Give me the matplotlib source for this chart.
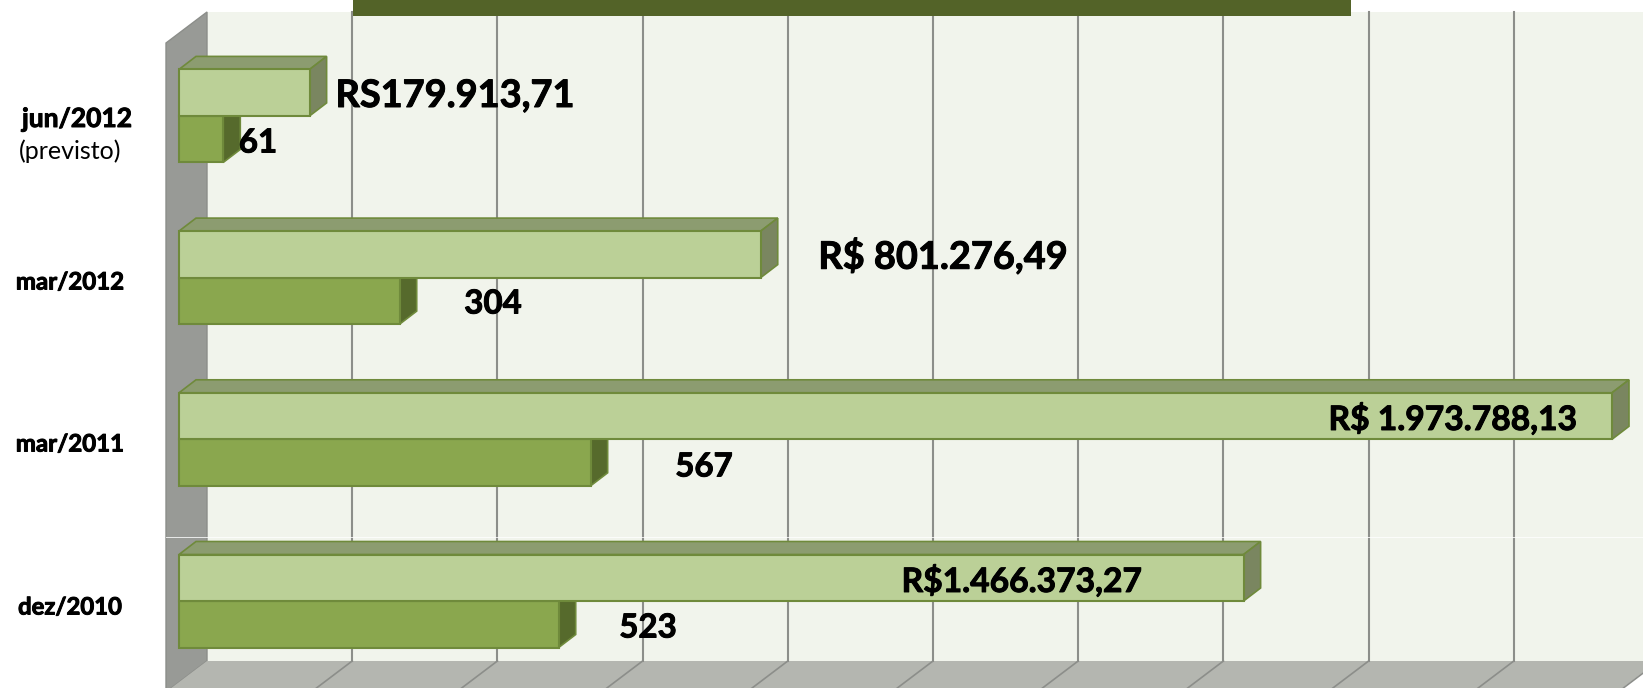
import matplotlib
matplotlib.use("Agg")
import matplotlib.pyplot as plt
import matplotlib.patheffects as pe
from matplotlib.patches import Polygon, Rectangle

categories = ["dez/2010", "mar/2011", "mar/2012", "jun/2012"]
reais = [1466373.27, 1973788.13, 801276.49, 179913.71]
reais_labels = ["R$1.466.373,27", "R$ 1.973.788,13", "R$ 801.276,49", "RS179.913,71"]
contratos = [523, 567, 304, 61]
grid_ticks = [0, 200000, 400000, 600000, 800000, 1000000, 1200000, 1400000, 1600000, 1800000, 2000000, 2200000]

W, H = 1643, 688
PX_PER_REAL = 1433 / 1973788.13
X0 = 179          # pixel of value 0 on the front of the bars
Y0 = 601          # pixel of the line between the two bars of the first row
ROW = 161.7
BAR_H = 46.5 / ROW
COUNT_SCALE = 1000  # the counts share the money axis, 1 count = R$ 1000 of length

DX = 17 / PX_PER_REAL
DY = 13 / ROW

def xp(px):
    return (px - X0) / PX_PER_REAL

def yp(px):
    return (Y0 - px) / ROW

fig = plt.figure(figsize=(W / 100, H / 100), dpi=100, facecolor="white")
ax = fig.add_axes([0, 0, 1, 1])
ax.set_xlim(xp(0), xp(W))
ax.set_ylim(yp(H), yp(0))
ax.axis("off")

#--- walls and floor
back_l, back_r = xp(207), xp(1658)
top, floor_b, floor_f = yp(12), yp(661), yp(692)
ax.add_patch(Rectangle((back_l, floor_b), back_r - back_l, top - floor_b, fc="#F1F4EC", ec="none", zorder=1))
ax.add_patch(Polygon([(xp(166), yp(43)), (back_l, top), (back_l, floor_b), (xp(166), floor_f)], fc="#989A96", ec="#8C8E8A", lw=1, zorder=1))
ax.add_patch(Polygon([(back_l, floor_b), (back_r, floor_b), (xp(1617), floor_f), (xp(166), floor_f)], fc="#B4B6B0", ec="none", zorder=1))

for t in grid_ticks[1:]:
    bx = t + xp(207)
    fx = t + xp(166)
    ax.plot([bx, bx], [floor_b, top], color="#8C8E8A", lw=1.5, zorder=2)
    ax.plot([bx, fx], [floor_b, floor_f], color="#8C8E8A", lw=1.2, zorder=2)

ax.plot([xp(166), xp(W)], [yp(537), yp(537)], color="white", lw=0.7, alpha=0.8, zorder=2)

#--- title band, cut at the top of the picture
ax.add_patch(Rectangle((xp(353), yp(15.5)), xp(1351) - xp(353), yp(0) - yp(15.5), fc="#536328", ec="none", zorder=3))

#--- bars
edge = "#6F8A3B"
for i in range(len(categories)):
    end_c = contratos[i] * COUNT_SCALE
    ax.add_patch(Polygon([(end_c, i), (end_c + DX, i + DY), (end_c + DX, i - BAR_H + DY), (end_c, i - BAR_H)],
                         fc="#566A2C", ec=edge, lw=1.2, zorder=4))
    ax.barh(i - BAR_H / 2, end_c, height=BAR_H, color="#8AA74E", edgecolor=edge, linewidth=1.5, zorder=5)

    end_r = reais[i]
    ax.add_patch(Polygon([(0, i + BAR_H), (DX, i + BAR_H + DY), (end_r + DX, i + BAR_H + DY), (end_r, i + BAR_H)],
                         fc="#8C9C70", ec=edge, lw=1.2, zorder=6))
    ax.add_patch(Polygon([(end_r, i), (end_r + DX, i + DY), (end_r + DX, i + BAR_H + DY), (end_r, i + BAR_H)],
                         fc="#7A8660", ec=edge, lw=1.2, zorder=6))
    ax.barh(i + BAR_H / 2, end_r, height=BAR_H, color="#BBD097", edgecolor=edge, linewidth=1.5, zorder=7)

#--- labels, a thin stroke gives the heavier look of the reference
font = "Lato"
heavy = [pe.withStroke(linewidth=0.7, foreground="black")]
label_x = [1022, 1453, 943, 455]
label_y = [581, 419, 256, 96]
label_fs = [24.2, 24.2, 27.3, 27.3]
count_x = [648, 704, 493, 258]
count_y = [628, 467, 304, 143]
for i in range(len(categories)):
    ax.text(xp(label_x[i]), yp(label_y[i]), reais_labels[i], fontsize=label_fs[i], fontweight="bold",
            family=font, ha="center", va="center", color="black", zorder=8, path_effects=heavy)
    ax.text(xp(count_x[i]), yp(count_y[i]), str(contratos[i]), fontsize=23.8, fontweight="bold",
            family=font, ha="center", va="center", color="black", zorder=8, path_effects=heavy)

cat_x = [70, 70, 70, 77]
cat_y = [607, 444, 282, 119]
cat_fs = [17.2, 17.3, 17.3, 19]
for i in range(len(categories)):
    ax.text(xp(cat_x[i]), yp(cat_y[i]), categories[i], fontsize=cat_fs[i], fontweight="bold",
            family=font, ha="center", va="center", color="black", zorder=8, path_effects=heavy)
ax.text(xp(70), yp(151), "(previsto)", fontsize=18, family=font, ha="center", va="center", color="black", zorder=8)

fig.savefig("out.png", dpi=100)
